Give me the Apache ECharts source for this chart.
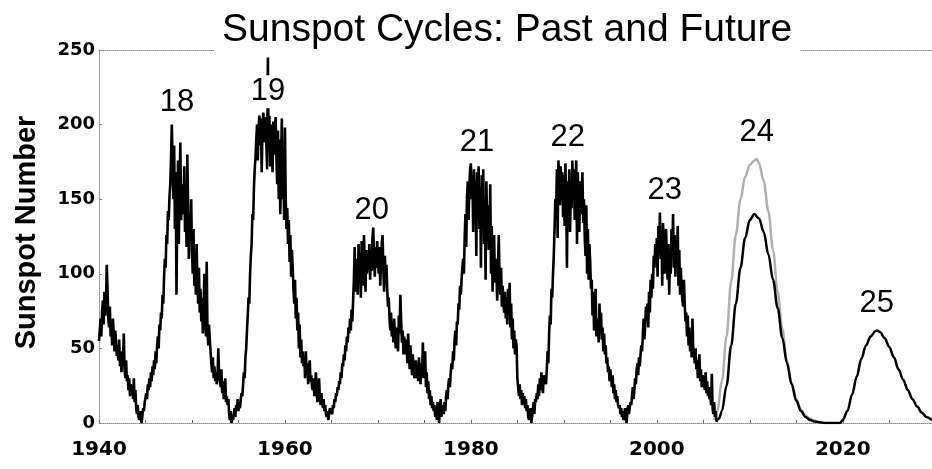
<!DOCTYPE html>
<html>
<head>
<meta charset="utf-8">
<script src="https://cdn.jsdelivr.net/npm/echarts@6/dist/echarts.min.js"></script>
<style>html,body{margin:0;padding:0;background:#fff;}#c{width:932px;height:469px;}</style>
</head>
<body>
<div id="c"></div>
<script>
// Observed monthly sunspot numbers, starting January 1940
const monthlyStartYear = 1940;
const sunspotMonthly = [
55,62,70,58,75,82,66,88,72,80,106,90,
70,64,78,58,66,52,70,60,48,62,54,45,
50,42,56,38,48,34,44,40,60,36,30,42,
28,32,22,30,18,26,20,24,16,30,14,22,
10,6,12,4,2,8,3,0,5,10,8,14,
14,20,16,26,22,30,24,34,28,38,32,42,
36,48,40,52,58,50,66,62,74,70,86,80,
98,110,104,126,120,142,136,152,160,178,200,172,
150,186,130,168,86,140,176,120,158,188,136,150,
160,140,172,128,150,118,180,146,110,138,124,150,
116,100,130,92,108,86,120,96,80,104,74,90,
68,84,60,76,100,70,58,108,62,52,66,56,
48,40,34,44,30,38,28,34,26,30,50,32,
30,24,36,20,28,16,24,30,14,18,12,16,
6,2,8,0,4,2,6,10,4,12,8,16,
8,12,10,16,20,18,26,34,30,44,50,62,
72,84,80,100,112,120,140,136,158,170,178,190,
200,176,198,206,186,204,168,196,208,200,188,205,
204,170,245,182,206,172,200,190,168,202,180,196,
205,178,160,196,150,190,140,172,204,150,168,136,
198,150,130,144,120,136,108,126,98,116,104,90,
80,96,70,84,62,74,50,66,44,56,40,48,
38,44,30,48,34,40,26,36,42,28,32,24,
22,30,18,26,34,20,14,24,30,18,12,20,
14,10,16,8,12,6,4,8,2,6,10,8,
8,6,12,10,16,14,20,18,24,22,28,26,
34,30,40,38,46,42,52,48,58,54,64,60,
70,62,76,68,82,96,118,88,110,100,86,120,
96,114,84,122,104,92,126,108,88,116,100,112,
106,120,96,116,102,124,131,110,98,118,104,122,
112,100,118,92,108,120,126,104,88,112,96,106,
90,78,84,70,62,74,58,66,54,70,60,50,
56,64,48,72,60,86,68,54,62,46,58,50,
46,56,40,60,48,36,52,42,32,46,38,30,
34,42,30,38,28,44,32,26,40,30,54,36,
30,48,24,34,20,28,16,22,12,18,10,14,
8,12,4,10,2,14,6,0,10,16,4,12,
10,6,14,8,18,22,16,26,30,24,34,40,
36,48,42,56,62,52,68,66,80,76,92,86,
96,104,110,100,124,140,118,152,162,136,158,170,
174,150,166,128,170,144,162,112,168,140,172,130,
158,104,166,138,170,120,150,96,162,134,146,116,
124,160,100,132,88,116,126,94,110,100,82,106,
126,98,86,104,78,92,80,74,88,70,82,66,
90,72,94,64,80,56,70,50,62,46,56,52,
30,24,18,26,16,22,12,20,14,18,10,16,
8,12,4,2,6,10,0,4,8,14,6,16,
14,20,16,26,18,30,22,34,24,20,32,28,
30,26,36,48,40,60,72,66,90,84,100,112,
130,150,140,170,124,176,160,146,172,150,168,138,
166,132,174,150,104,162,140,170,128,156,144,176,
150,170,136,160,176,120,168,146,128,162,140,156,
168,134,150,124,112,146,100,130,96,120,108,90,
96,72,88,62,78,90,58,70,66,54,80,60,
74,56,64,48,60,46,52,40,44,34,38,28,
36,30,24,32,20,26,16,22,14,18,12,10,
12,6,10,4,8,2,6,10,4,0,8,12,
6,10,14,12,18,24,16,22,30,26,36,40,
32,44,38,46,52,48,60,70,56,66,78,72,
80,64,88,74,96,84,100,90,112,104,120,108,
124,98,132,116,141,110,128,92,134,118,100,126,
130,108,96,120,86,112,100,130,118,140,104,126,
98,122,110,132,92,116,86,104,90,82,78,96,
80,68,74,58,72,52,64,48,60,44,70,50,
46,40,50,36,42,30,38,46,28,36,24,32,
30,26,22,34,20,28,18,24,16,22,12,33,
10,6,14,4,8,1
];

// Forecast, cycle 24 (high prediction, grey)
const predHighYears  = [2006.2,2006.5,2007,2007.5,2008,2008.5,2009,2009.5,2010,2010.5,2010.75,2011,2011.5,2012,2012.5,2013,2013.5,2014,2014.5,2015,2015.5,2016,2016.5,2017,2017.5,2018];
const predHighValues = [2,8,28,58,95,126,150,165,173,176,177,174,162,142,116,88,63,42,27,16,9,5,3,1.5,0.5,0];

// Forecast, cycle 24 (low prediction) followed by cycle 25, black
const predLowYears  = [2006.4,2006.7,2007,2007.5,2008,2008.5,2009,2009.5,2010,2010.5,2011,2011.5,2012,2012.5,2013,2013.5,2014,2014.5,2015,2015.5,2016,2016.5,2017,2017.5,2018,2019,2019.7,2020,2020.5,2021,2021.5,2022,2022.5,2023,2023.5,2023.7,2024,2024.5,2025,2025.5,2026,2026.5,2027,2027.5,2028,2028.5,2029,2029.6];
const predLowValues = [1,3,8,25,52,80,104,124,136,140,137,128,113,96,77,57,40,26,15,8,4,2,1,0.5,0,0,0,2,8,19,31,43,52,58,61.5,62,61,57,51,44,36,29,22,16,11,7,4,2];

// Cycle number labels
const cycleLabels = ['18','19','20','21','22','23','24','25'];
const cycleLabelYears = [1948.4,1958.17,1969.35,1980.65,1990.43,2000.86,2010.75,2023.66];
const cycleLabelValues = [215,222,142.5,188,191.5,156,195,80];

const xTickLabels = [1940,1960,1980,2000,2020];
const yTickLabels = [0,50,100,150,200,250];

const observed = sunspotMonthly.map((v,i)=>[monthlyStartYear + i/12, v]);
const predHigh = predHighYears.map((y,i)=>[y, predHighValues[i]]);
const predLow = predLowYears.map((y,i)=>[y, predLowValues[i]]);
const labelPts = cycleLabelYears.map((y,i)=>[y, cycleLabelValues[i], cycleLabels[i]]);

const chart = echarts.init(document.getElementById('c'), null, {renderer:'canvas'});
const axisLineStyle = {color:'#8a8a8a', width:1, type:'dotted'};
chart.setOption({
  animation:false,
  backgroundColor:'#fff',
  title:{
    text:'Sunspot Cycles: Past and Future',
    left:214, top:11,
    textStyle:{fontFamily:'Liberation Sans', fontSize:39, fontWeight:'normal', color:'#000'},
    backgroundColor:'#fff', padding:[0,8,1,8]
  },
  grid:{left:99, right:0, top:50, bottom:46},
  xAxis:[{
    type:'value', min:1940, max:2029.6, interval:5,
    axisLine:{show:true, lineStyle:axisLineStyle},
    axisTick:{show:true, inside:true, length:3, lineStyle:{color:'#666'}},
    splitLine:{show:false},
    axisLabel:{
      showMaxLabel:false, margin:17,
      fontFamily:'DejaVu Sans', fontWeight:'bold', fontSize:20, color:'#000',
      formatter:v => xTickLabels.indexOf(v) >= 0 ? String(v) : ''
    }
  },{
    type:'value', min:1940, max:2029.6, position:'top',
    axisLine:{show:true, lineStyle:axisLineStyle},
    axisTick:{show:false}, axisLabel:{show:false}, splitLine:{show:false}
  }],
  yAxis:{
    type:'value', min:0, max:250, interval:50,
    name:'Sunspot Number', nameLocation:'middle', nameGap:58, nameRotate:90,
    nameTextStyle:{fontFamily:'Liberation Sans', fontWeight:'bold', fontSize:29, color:'#000', padding:[0,0,0,8]},
    axisLine:{show:true, lineStyle:axisLineStyle},
    axisTick:{show:true, inside:true, length:3, lineStyle:{color:'#888'}},
    splitLine:{show:false},
    axisLabel:{
      margin:4, fontFamily:'DejaVu Sans', fontWeight:'bold', fontSize:18, color:'#000',
      formatter:v => yTickLabels.indexOf(v) >= 0 ? String(v) : ''
    }
  },
  series:[
    {type:'line', data:observed, showSymbol:false, symbol:'none',
     lineStyle:{color:'#000', width:2.6}, z:3},
    {type:'line', data:predHigh, showSymbol:false, symbol:'none', smooth:0.35, smoothMonotone:'x',
     lineStyle:{color:'#b0b0b0', width:2.5}, z:2},
    {type:'line', data:predLow, showSymbol:false, symbol:'none', smooth:0.35, smoothMonotone:'x',
     lineStyle:{color:'#000', width:2.5}, z:3},
    {type:'scatter', data:labelPts, symbolSize:0, z:5,
     itemStyle:{opacity:1},
     label:{show:true, position:[0,0], align:'center', verticalAlign:'middle',
       formatter:p => p.data[2],
       fontFamily:'Liberation Sans', fontSize:31, color:'#000',
       backgroundColor:'#fff', padding:[1,1]}}
  ]
});
</script>
</body>
</html>
